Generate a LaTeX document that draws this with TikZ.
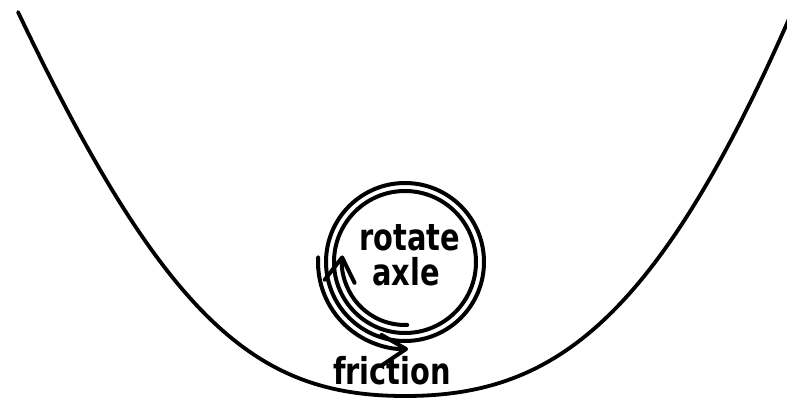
\documentclass[tikz,border=0pt]{standalone}
\usepackage{fontspec}
\newfontfamily\lblfont[FakeStretch=0.78]{DejaVu Sans}
\usetikzlibrary{arrows.meta}
\tikzset{
  valley/.style={line width=3.8pt, line cap=round, line join=round},
  wheelline/.style={line width=4pt},
  motion/.style={line width=4pt, line cap=round,
    -{Straight Barb[length=24pt, width=30pt, round]}},
  lbl/.style={font=\lblfont\bfseries\fontsize{37}{37}\selectfont, inner sep=0pt,
    text depth=0pt, anchor=base}
}
\begin{document}
\begin{tikzpicture}[x=1pt, y=1pt]
\useasboundingbox (0,0) rectangle (787,399);
% valley
\coordinate (vl) at (18,387);
\coordinate (vb) at (405,3);
\coordinate (vr) at (792,387);
\draw[valley] (vl) .. controls (168,72) and (260,3) .. (vb)
                   .. controls (550,3) and (655,72) .. (vr);
% wheel
\coordinate (c) at (405,137);
\node[circle, draw, wheelline, minimum size=158pt, inner sep=0pt] (outer) at (c) {};
\node[circle, draw, wheelline, minimum size=142pt, inner sep=0pt] (inner) at (c) {};
% rotation arrow inside the wheel
\draw[motion] ([shift={(272:63)}]c) arc[start angle=272, end angle=174, radius=63];
% friction arrow outside the wheel
\draw[motion] ([shift={(177:87)}]c) arc[start angle=177, end angle=272, radius=87];
% labels
\node[lbl] (rot) at (410,148) {rotate};
\node[lbl] (axl) at (406,113) {axle};
\node[lbl] (fri) at (392,15) {friction};
\end{tikzpicture}
\end{document}
